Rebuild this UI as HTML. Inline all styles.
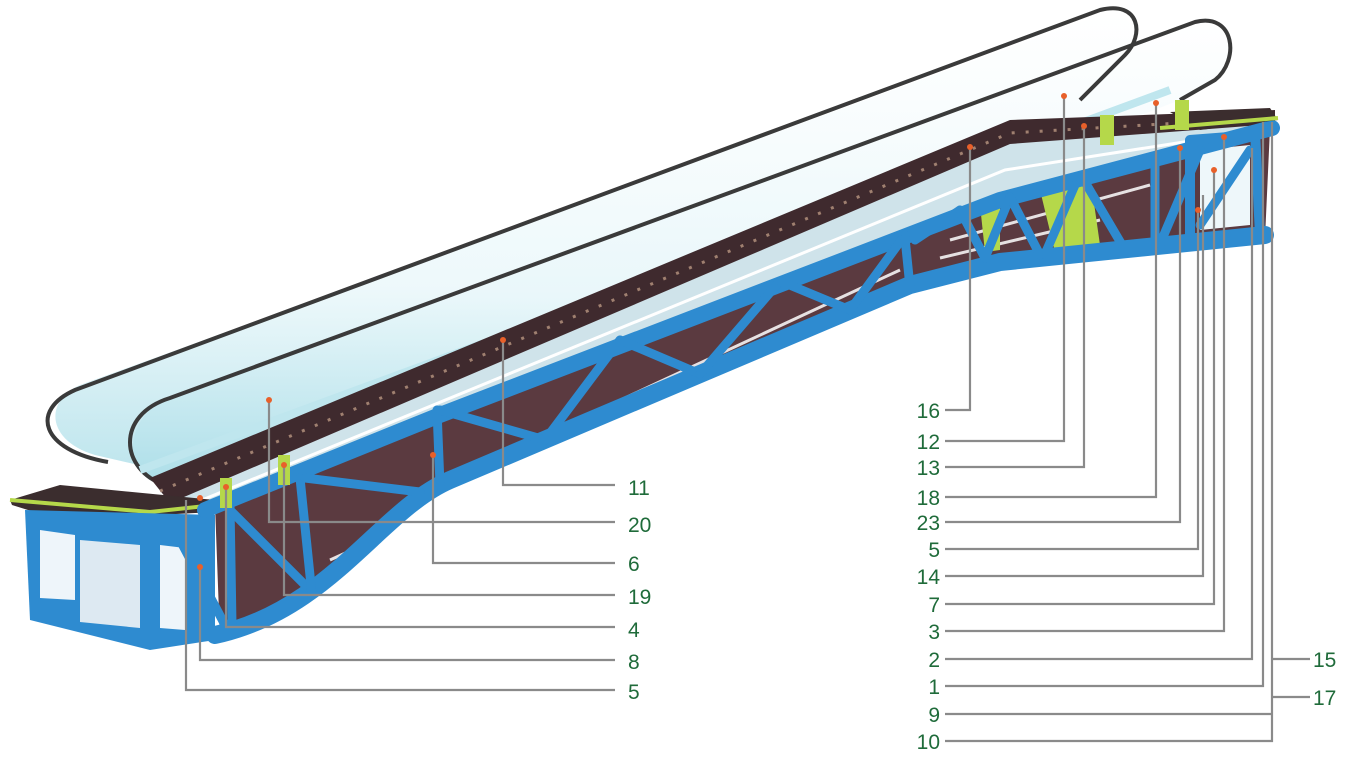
<!DOCTYPE html>
<html><head><meta charset="utf-8"><style>
html,body{margin:0;padding:0;background:#fff;}
svg{display:block;}
text{font-family:"Liberation Sans",sans-serif;font-size:21px;fill:#1f6b3a;}
</style></head><body>
<svg width="1350" height="758" viewBox="0 0 1350 758" xmlns="http://www.w3.org/2000/svg">
<defs>
<linearGradient id="gl" x1="0" y1="0" x2="0" y2="1">
<stop offset="0" stop-color="#ffffff"/><stop offset="0.6" stop-color="#e9f7fa"/><stop offset="1" stop-color="#aedfe9"/>
</linearGradient>
</defs>
<!-- glass panels -->
<path d="M95,455 C45,440 45,400 80,385 L1100,15 C1135,5 1140,40 1120,60 L1085,95 L160,470 Z" fill="url(#gl)" opacity="0.8"/>
<path d="M150,480 C120,460 130,410 175,395 L1195,25 C1230,15 1240,55 1215,80 L1180,100 L200,480 Z" fill="url(#gl)"/>
<!-- handrails -->
<path d="M108,462 C40,450 30,410 75,390 L1100,10 C1140,0 1145,35 1125,55 L1080,100" fill="none" stroke="#3a3a3a" stroke-width="4"/>
<path d="M165,485 C120,470 115,415 170,398 L1195,22 C1235,12 1240,60 1215,80 L1180,100" fill="none" stroke="#3a3a3a" stroke-width="4"/>
<path d="M140,470 L1170,90" stroke="#bfe6ee" stroke-width="8"/>
<!-- light band under steps -->
<polygon points="170,500 1010,142 1275,122 1270,128 1000,200 440,415 215,505" fill="#cfe3ea"/>
<path d="M190,505 L1005,170 L1260,130" stroke="#ffffff" stroke-width="3" fill="none"/>
<!-- deck / steps -->
<polygon points="150,478 1010,120 1275,110 1275,124 1010,144 170,503" fill="#3f2a2e"/>
<path d="M160,491 L1010,133 L1265,118" stroke="#a08070" stroke-width="3" stroke-dasharray="3 11" fill="none"/>
<!-- truss body -->
<path d="M215,505 L440,415 L1000,200 L1270,128 L1265,238 L1000,262 L910,285 L450,480 C380,510 330,620 220,640 Z" fill="#5b3a40"/>
<g stroke="#ffffff" stroke-width="3" opacity="0.85">
<path d="M330,560 L900,300"/><path d="M345,585 L905,320"/><path d="M360,605 L700,440"/><path d="M470,470 L900,270"/>
<path d="M950,240 L1150,185"/><path d="M940,258 L1100,220"/>
</g>
<polygon points="1040,190 1090,175 1100,245 1055,252" fill="#b5d84a"/>
<polygon points="980,205 1000,200 1000,250 985,252" fill="#b5d84a"/>
<!-- left box -->
<polygon points="10,500 60,485 215,500 215,512 60,520 12,505" fill="#3b2d2e"/>
<path d="M10,500 L150,512 L215,505" stroke="#b5d84a" stroke-width="4" fill="none"/>
<polygon points="25,510 215,515 215,640 150,650 30,620" fill="#2e8bd0"/>
<polygon points="40,530 75,535 75,600 40,598" fill="#eef5fa"/>
<polygon points="80,540 140,545 140,628 80,622" fill="#dde9f2"/>
<polygon points="160,545 185,548 185,630 160,628" fill="#eef5fa"/>
<!-- right box -->
<polygon points="1200,150 1250,145 1250,225 1200,230" fill="#eef7fa"/>
<!-- truss members -->
<g stroke="#2e8bd0" fill="none" stroke-linecap="round" stroke-linejoin="round">
<path d="M205,510 L440,415 L1000,200 L1272,128" stroke-width="16"/>
<path d="M215,635 C330,610 380,510 450,480 L910,285 L1000,262 L1265,235" stroke-width="18"/>
<path d="M1190,140 L1190,235 M1255,130 L1260,236 M1190,140 L1255,135" stroke-width="10"/>
<g stroke-width="9">
<path d="M180,540 L225,625"/><path d="M230,505 L232,625"/><path d="M232,512 L310,590"/><path d="M300,478 L312,595"/>
<path d="M305,478 L420,492"/>
<path d="M437,410 L440,485"/><path d="M440,410 L545,440"/><path d="M545,440 L620,340"/><path d="M620,340 L700,374"/>
<path d="M700,374 L780,281"/><path d="M780,281 L850,310"/><path d="M850,310 L905,235"/><path d="M905,238 L910,287"/>
<path d="M915,240 L960,210"/><path d="M960,210 L985,258"/><path d="M985,258 L1010,197"/>
<path d="M1010,197 L1040,255"/><path d="M1045,254 L1075,185"/><path d="M1085,182 L1125,250"/>
<path d="M1155,158 L1155,244"/><path d="M1160,244 L1200,150"/><path d="M1200,225 L1250,150"/>
</g>
</g>
<polygon points="1170,112 1270,108 1278,120 1200,130" fill="#3b2d2e"/>
<path d="M1160,128 L1278,118" stroke="#b5d84a" stroke-width="4"/>
<rect x="1100" y="115" width="14" height="30" fill="#b5d84a"/><rect x="1175" y="100" width="14" height="30" fill="#b5d84a"/>
<rect x="220" y="478" width="12" height="30" fill="#b5d84a"/><rect x="278" y="455" width="12" height="30" fill="#b5d84a"/>
<!-- leader lines -->
<g stroke="#8a8a8a" stroke-width="2.2" fill="none">
<path d="M503,340 L503,485 L615,485"/>
<path d="M269,400 L269,522 L615,522"/>
<path d="M433,455 L433,563 L615,563"/>
<path d="M284,465 L284,595 L615,595"/>
<path d="M226,487 L226,627 L615,627"/>
<path d="M200,567 L200,660 L615,660"/>
<path d="M186,500 L186,690 L615,690"/>
<path d="M970,147 L970,410 L945,410"/>
<path d="M1064,96 L1064,441 L945,441"/>
<path d="M1084,126 L1084,467 L945,467"/>
<path d="M1156,103 L1156,497 L945,497"/>
<path d="M1180,148 L1180,522 L945,522"/>
<path d="M1198,210 L1198,549 L945,549"/>
<path d="M1203,195 L1203,576 L945,576"/>
<path d="M1214,170 L1214,604 L945,604"/>
<path d="M1224,137 L1224,631 L945,631"/>
<path d="M1252,148 L1252,659 L945,659"/>
<path d="M1263,122 L1263,686 L945,686"/>
<path d="M1272,122 L1272,741 L945,741"/>
<path d="M1272,714 L945,714"/>
<path d="M1272,659 L1310,659"/><path d="M1272,697 L1310,697"/>
</g>
<g fill="#e8602a">
<circle cx="503" cy="340" r="3"/><circle cx="269" cy="400" r="3"/><circle cx="433" cy="455" r="3"/><circle cx="284" cy="465" r="3"/>
<circle cx="226" cy="487" r="3"/><circle cx="200" cy="567" r="3"/><circle cx="200" cy="498" r="3"/>
<circle cx="970" cy="147" r="3"/><circle cx="1064" cy="96" r="3"/><circle cx="1084" cy="126" r="3"/><circle cx="1156" cy="103" r="3"/>
<circle cx="1180" cy="148" r="3"/><circle cx="1198" cy="210" r="3"/><circle cx="1214" cy="170" r="3"/><circle cx="1224" cy="137" r="3"/>
</g>
<g>
<text x="628" y="495">11</text><text x="628" y="532">20</text><text x="628" y="571">6</text><text x="628" y="604">19</text>
<text x="628" y="637">4</text><text x="628" y="669">8</text><text x="628" y="699">5</text>
</g>
<g text-anchor="end">
<text x="940" y="418">16</text><text x="940" y="449">12</text><text x="940" y="475">13</text><text x="940" y="505">18</text>
<text x="940" y="530">23</text><text x="940" y="557">5</text><text x="940" y="584">14</text><text x="940" y="612">7</text>
<text x="940" y="639">3</text><text x="940" y="667">2</text><text x="940" y="694">1</text><text x="940" y="722">9</text>
<text x="940" y="749">10</text>
</g>
<text x="1313" y="667">15</text><text x="1313" y="705">17</text>
</svg>
</body></html>
